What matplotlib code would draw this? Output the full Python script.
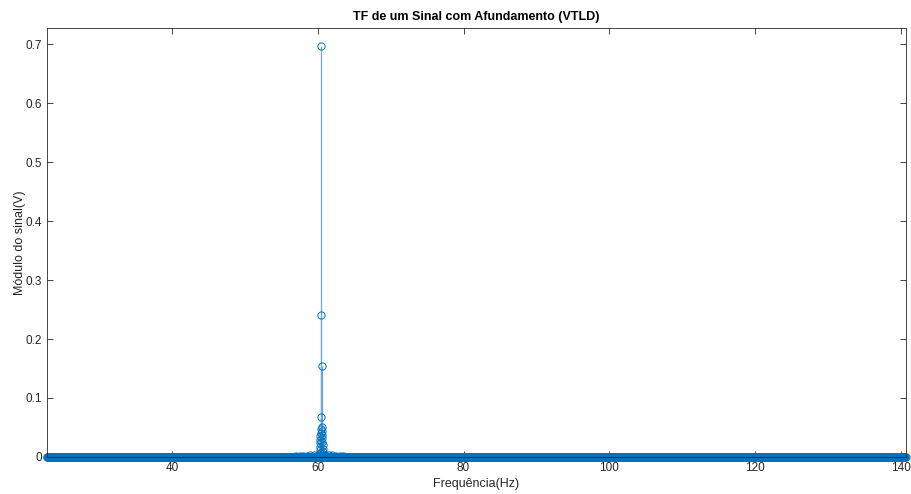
import numpy as np
import matplotlib
matplotlib.use("Agg")
import matplotlib.pyplot as plt

# ---- data ----
f_start, f_stop, f_step = 22.85, 140.65, 0.05          # frequency grid of the FFT bins
peak_freqs = [60.50, 60.45, 60.55, 60.40, 60.60, 60.42, 60.58, 60.47, 60.53,
              60.37, 60.63, 60.35, 60.65, 60.33, 60.67, 60.30, 60.70, 60.28,
              60.72, 60.25, 60.75]
peak_vals = [0.697, 0.241, 0.154, 0.068, 0.051, 0.047, 0.044, 0.041, 0.038,
             0.035, 0.032, 0.029, 0.026, 0.023, 0.020, 0.017, 0.014, 0.011,
             0.009, 0.007, 0.005]
skirt_freqs = [57.0, 57.5, 58.0, 58.5, 59.0, 59.5, 60.0, 61.0, 61.5, 62.0, 62.5, 63.0, 63.5]
skirt_vals = [0.001, 0.0015, 0.002, 0.002, 0.0025, 0.003, 0.004, 0.004, 0.003,
              0.0025, 0.002, 0.0015, 0.001]

xticks = [40, 60, 80, 100, 120, 140]
yticks = [0, 0.1, 0.2, 0.3, 0.4, 0.5, 0.6, 0.7]

title = "TF de um Sinal com Afundamento (VTLD)"
xlabel = "Frequência(Hz)"
ylabel = "Módulo do sinal(V)"

# ---- assemble spectrum ----
freq = np.arange(f_start, f_stop + 1e-9, f_step)
mag = np.zeros_like(freq)
for fq, v in zip(skirt_freqs, skirt_vals):
    mag[np.argmin(np.abs(freq - fq))] = v
freq = np.concatenate([freq, np.array(peak_freqs)])
mag = np.concatenate([mag, np.array(peak_vals)])
order = np.argsort(freq)
freq, mag = freq[order], mag[order]

plt.rcParams['font.family'] = ['Liberation Sans', 'DejaVu Sans']
blue = '#0072BD'
stem_blue = '#6aa7d2'
grey = '#262626'

fig = plt.figure(figsize=(9.11, 4.94), dpi=100)
fig.patch.set_facecolor('white')
ax = fig.add_axes([0.0516, 0.075, 0.9424, 0.8677])

ax.vlines(freq, 0, mag, color=stem_blue, linewidth=0.9)
ax.plot(freq, mag, linestyle='none', marker='o', markersize=5.2,
        markerfacecolor='none', markeredgecolor=blue, markeredgewidth=0.7,
        clip_on=False)
ax.axhline(0, color=blue, linewidth=0.8)

ax.set_xlim(f_start, f_stop)
ax.set_ylim(0, 0.727)
ax.set_xticks(xticks)
ax.set_yticks(yticks)
ax.set_yticklabels(['0'] + [f'{t:.1f}' for t in yticks[1:]])

ax.tick_params(direction='in', top=True, right=True, length=4, width=0.6,
               colors=grey, labelsize=8.5, labelcolor=grey)
for s in ax.spines.values():
    s.set_color(grey)
    s.set_linewidth(0.6)

ax.set_title(title, fontsize=9, fontweight='bold', color='black', pad=6)
ax.set_xlabel(xlabel, fontsize=9, color=grey, labelpad=3)
ax.set_ylabel(ylabel, fontsize=9, color=grey)
ax.yaxis.set_label_coords(-0.025, 0.5)

fig.savefig('out.png', dpi=100, facecolor='white')
